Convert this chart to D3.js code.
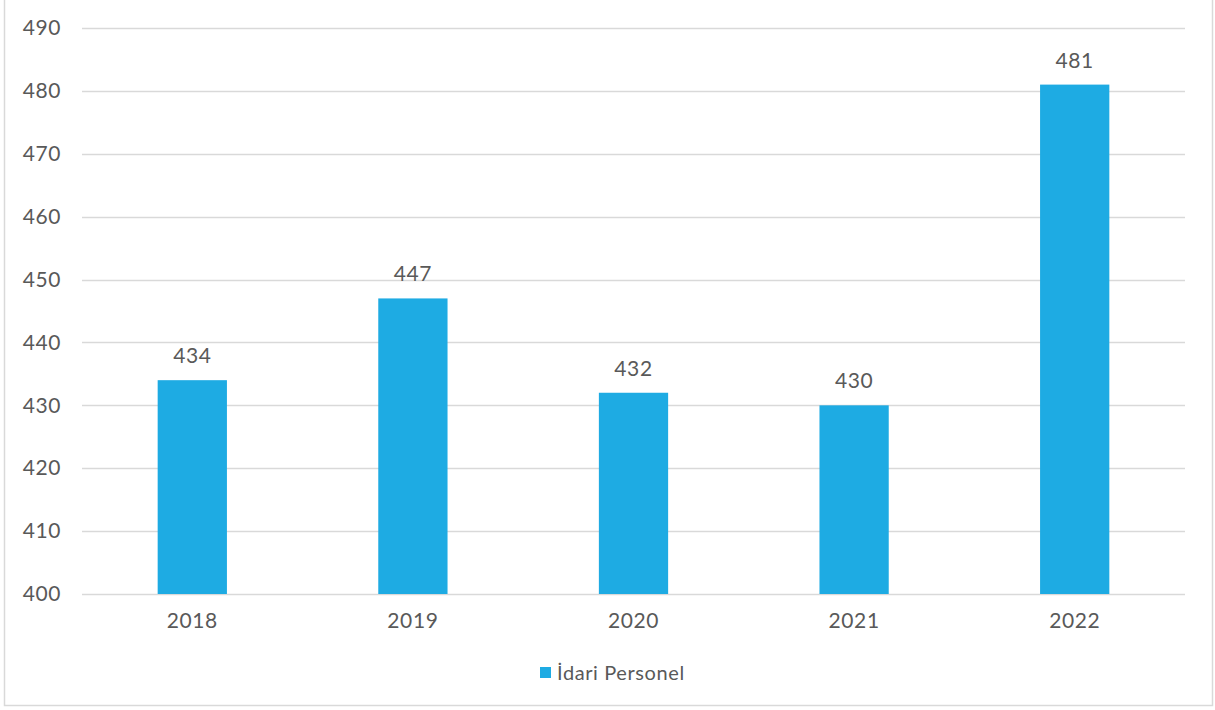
<!DOCTYPE html>
<html>
<head>
<meta charset="utf-8">
<script src="https://cdn.jsdelivr.net/npm/d3@7"></script>
<style>
  html, body { margin: 0; padding: 0; background: #fff; }
  svg { display: block; }
  text { font-family: "Lato", "Noto Sans", sans-serif; fill: #595959; letter-spacing: 0.6px; }
</style>
</head>
<body>
<svg id="chart" width="1215" height="710"></svg>
<script>
const years = ["2018", "2019", "2020", "2021", "2022"];
const staff = [434, 447, 432, 430, 481];
const yTicks = [400, 410, 420, 430, 440, 450, 460, 470, 480, 490];
const seriesName = "İdari Personel";

const W = 1215, H = 710;
const m = { left: 82, right: 30, top: 28, bottom: 116 };
const svg = d3.select("#chart");

// outer frame
svg.append("rect")
  .attr("x", 4.5).attr("y", -3)
  .attr("width", W - 7).attr("height", H - 1.5)
  .attr("fill", "none").attr("stroke", "#d9d9d9").attr("stroke-width", 1.5);

const x = d3.scaleBand().domain(years).range([m.left, W - m.right]).paddingInner(0.686).paddingOuter(0.343);
const y = d3.scaleLinear().domain([400, 490]).range([H - m.bottom, m.top]);

// horizontal gridlines
svg.append("g").selectAll("line").data(yTicks).join("line")
  .attr("x1", m.left).attr("x2", W - m.right)
  .attr("y1", d => Math.round(y(d)) + 0.5).attr("y2", d => Math.round(y(d)) + 0.5)
  .attr("stroke", "#d9d9d9").attr("stroke-width", 1.5);

// y axis labels
const yAxis = d3.axisLeft(y).tickValues(yTicks).tickSize(0).tickPadding(21);
const gy = svg.append("g").attr("transform", `translate(${m.left},0)`).call(yAxis);
gy.select(".domain").remove();
gy.selectAll("text").style("font-size", "21px").attr("fill", "#595959");

// bars
svg.append("g").selectAll("rect").data(years).join("rect")
  .attr("x", d => x(d))
  .attr("width", x.bandwidth())
  .attr("y", (d, i) => y(staff[i]))
  .attr("height", (d, i) => y(400) - y(staff[i]))
  .attr("fill", "#1eabe3");

// value labels
svg.append("g").selectAll("text").data(years).join("text")
  .attr("x", d => x(d) + x.bandwidth() / 2)
  .attr("y", (d, i) => y(staff[i]) - 17)
  .attr("text-anchor", "middle")
  .style("font-size", "21px")
  .text((d, i) => staff[i]);

// x axis labels
const xAxis = d3.axisBottom(x).tickSize(0).tickPadding(19);
const gx = svg.append("g").attr("transform", `translate(0,${H - m.bottom})`).call(xAxis);
gx.select(".domain").remove();
gx.selectAll("text").style("font-size", "21px").attr("fill", "#595959");

// legend
const lg = svg.append("g").attr("transform", "translate(540,667)");
lg.append("rect").attr("x", 0).attr("y", 0).attr("width", 11).attr("height", 11).attr("fill", "#1eabe3");
lg.append("text").attr("x", 17).attr("y", 5.5).attr("dy", "0.35em")
  .style("font-size", "20px").text(seriesName);
</script>
</body>
</html>
